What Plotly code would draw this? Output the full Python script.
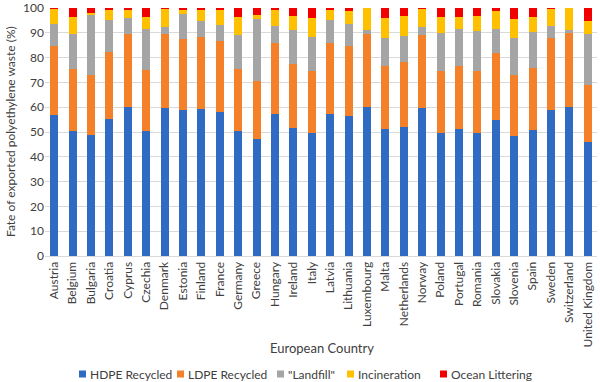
import plotly.graph_objects as go

countries = ["Austria", "Belgium", "Bulgaria", "Croatia", "Cyprus", "Czechia", "Denmark",
             "Estonia", "Finland", "France", "Germany", "Greece", "Hungary", "Ireland",
             "Italy", "Latvia", "Lithuania", "Luxembourg", "Malta", "Netherlands", "Norway",
             "Poland", "Portugal", "Romania", "Slovakia", "Slovenia", "Spain", "Sweden",
             "Switzerland", "United Kingdom"]

hdpe_recycled = [56.7, 50.3, 48.8, 55.1, 60.0, 50.3, 59.7, 58.7, 59.1, 58.0, 50.4, 47.1, 57.3, 51.7,
                 49.7, 57.1, 56.5, 60.0, 51.3, 52.1, 59.5, 49.7, 51.3, 49.7, 54.7, 48.4, 50.8, 58.8,
                 60.0, 46.0]
ldpe_recycled = [28.0, 25.1, 24.3, 27.0, 29.7, 24.8, 29.8, 28.8, 29.3, 28.8, 25.1, 23.3, 28.7, 25.8,
                 25.0, 28.6, 28.2, 29.7, 25.5, 26.0, 29.6, 25.0, 25.5, 25.0, 27.0, 24.4, 25.2, 29.2,
                 30.0, 23.1]
landfill = [8.9, 14.2, 24.4, 12.9, 6.3, 16.4, 2.8, 10.0, 6.3, 6.2, 13.8, 25.3, 6.8, 13.8,
            13.7, 9.4, 9.0, 1.6, 11.2, 10.7, 3.3, 15.3, 14.7, 16.1, 9.8, 15.2, 14.4, 4.8,
            1.1, 20.4]
incineration = [6.1, 6.7, 0.6, 4.2, 3.1, 4.9, 7.4, 1.6, 4.8, 6.1, 7.1, 1.6, 6.7, 5.5,
                7.6, 4.0, 5.0, 8.7, 8.1, 7.9, 7.3, 6.5, 5.0, 6.0, 7.2, 7.7, 5.9, 6.9,
                8.9, 5.3]
ocean_littering = [0.3, 3.7, 1.9, 0.8, 0.9, 3.6, 0.3, 0.9, 0.5, 0.9, 3.6, 2.7, 0.5, 3.2,
                   4.0, 0.9, 1.3, 0.0, 3.9, 3.3, 0.3, 3.5, 3.5, 3.2, 1.3, 4.3, 3.7, 0.3,
                   0.0, 5.2]

y_tick_values = [0, 10, 20, 30, 40, 50, 60, 70, 80, 90, 100]

series_names = ["HDPE Recycled", "LDPE Recycled", '"Landfill"', "Incineration", "Ocean Littering"]
series_values = [hdpe_recycled, ldpe_recycled, landfill, incineration, ocean_littering]
series_colors = ["#2F6BC3", "#F5802A", "#A5A5A5", "#FFC000", "#F00000"]

font_family = "Lato, 'Open Sans', sans-serif"
text_color = "#404040"

W, H = 600, 382
ML, MR, MT, MB = 45, 3, 8, 126
PW, PH = W - ML - MR, H - MT - MB


def px_x(px):
    return (px - ML) / PW


def px_y(py):
    return (H - MB - py) / PH


fig = go.Figure()
for name, vals, color in zip(series_names, series_values, series_colors):
    fig.add_trace(go.Bar(x=countries, y=vals, name=name, marker_color=color,
                         marker_line_width=0, showlegend=False))

# custom legend (compact, Excel-like)
legend_marker_px = [79, 177, 277, 347, 440]
legend_y_px = 374
shapes = []
annotations = []
for name, color, mx in zip(series_names, series_colors, legend_marker_px):
    shapes.append(dict(type="rect", xref="paper", yref="paper",
                       x0=px_x(mx), x1=px_x(mx + 7),
                       y0=px_y(legend_y_px + 3.5), y1=px_y(legend_y_px - 3.5),
                       fillcolor=color, line_width=0))
    annotations.append(dict(text=name, xref="paper", yref="paper",
                            x=px_x(mx + 9), y=px_y(legend_y_px),
                            xanchor="left", yanchor="middle", showarrow=False,
                            font=dict(size=12, color=text_color, family=font_family)))

annotations.append(dict(text="European Country", xref="paper", yref="paper",
                        x=px_x(322), y=px_y(348), xanchor="center", yanchor="middle",
                        showarrow=False, font=dict(size=13, color=text_color, family=font_family)))
annotations.append(dict(text="Fate of exported polyethylene waste (%)", xref="paper", yref="paper",
                        x=px_x(10), y=px_y(132), xanchor="center", yanchor="middle", textangle=-90,
                        showarrow=False, font=dict(size=12, color=text_color, family=font_family)))

fig.update_layout(
    barmode="stack",
    bargap=0.56,
    width=W, height=H,
    margin=dict(l=ML, r=MR, t=MT, b=MB),
    paper_bgcolor="white",
    plot_bgcolor="white",
    showlegend=False,
    font=dict(family=font_family, size=12, color=text_color),
    shapes=shapes,
    annotations=annotations,
    xaxis=dict(
        tickangle=-90,
        tickfont=dict(size=12, color=text_color),
        showline=True, linecolor="#D9D9D9", linewidth=1,
        ticks="",
        automargin=False,
        ticklabeloverflow="allow",
    ),
    yaxis=dict(
        range=[0, 100],
        tickmode="array", tickvals=y_tick_values,
        showgrid=True, gridcolor="#D9D9D9", gridwidth=1,
        zeroline=False,
        tickfont=dict(size=12, color=text_color),
        ticks="",
        automargin=False,
        ticklabeloverflow="allow",
    ),
)

fig.write_html(
    "out.html",
    config={"displayModeBar": False},
    post_script="document.body.style.margin='0';document.body.style.padding='0';",
)
